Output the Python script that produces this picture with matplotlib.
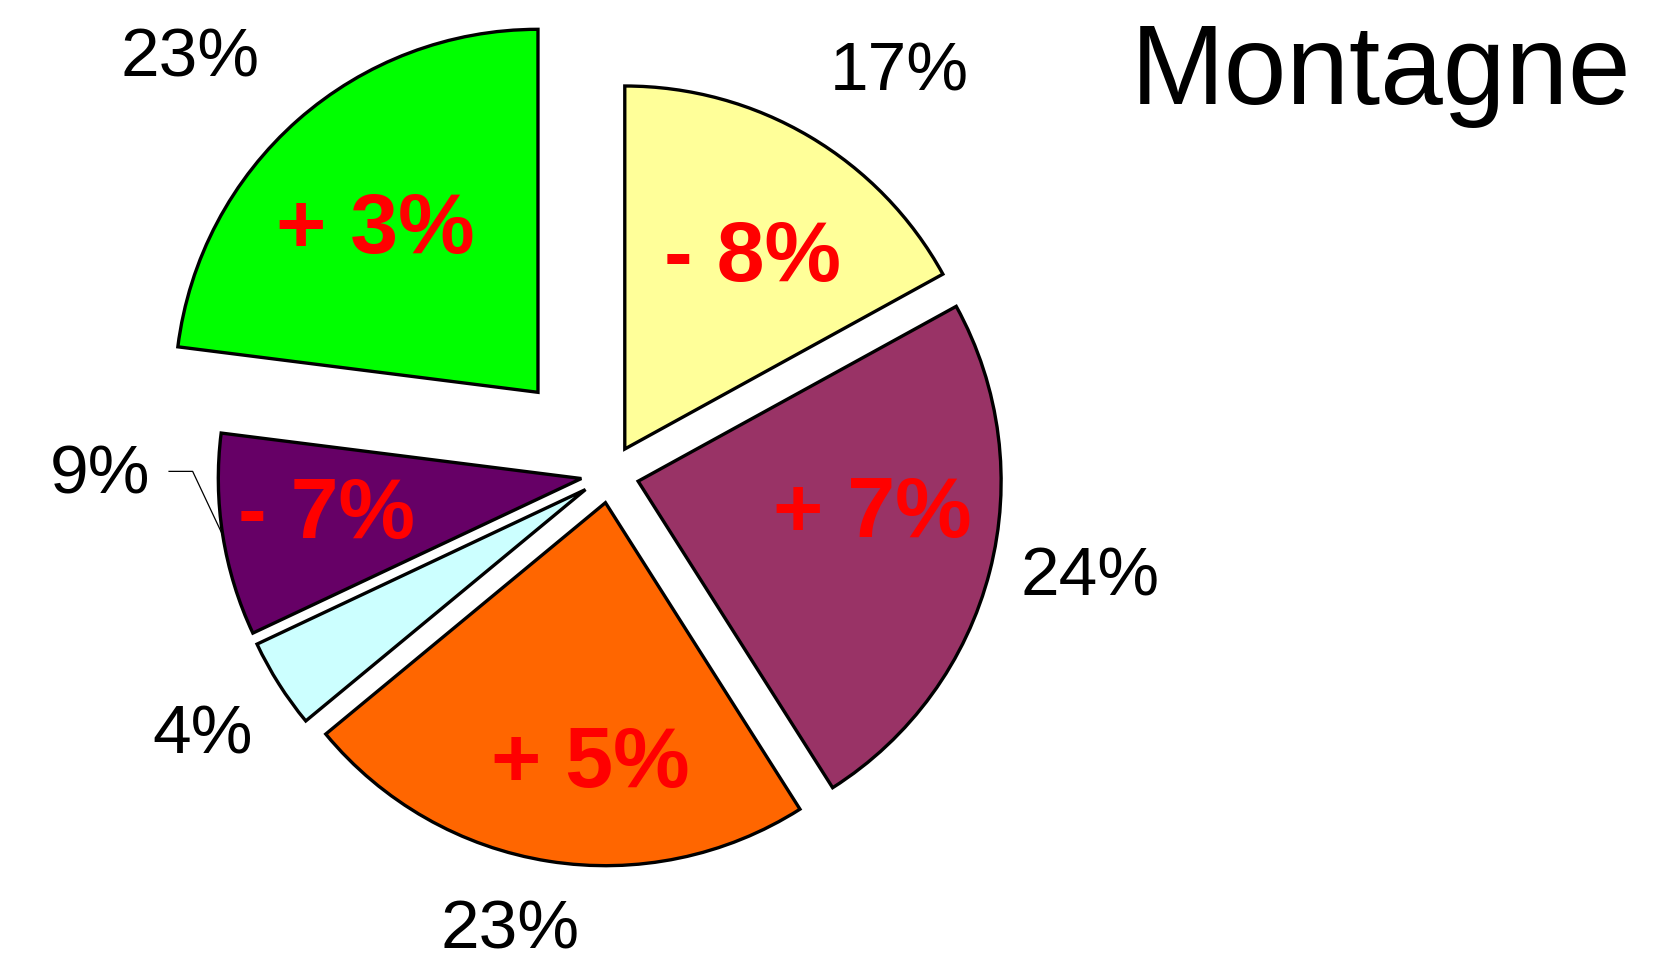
import numpy as np
import matplotlib
matplotlib.use('Agg')
import matplotlib.pyplot as plt

# slices, clockwise from 12 o'clock
shares = [17, 24, 23, 4, 9, 23]
share_labels = ['17%', '24%', '23%', '4%', '9%', '23%']
changes = ['- 8%', '+ 7%', '+ 5%', '', '- 7%', '+ 3%']
colors = ['#FFFF99', '#993366', '#FF6600', '#CCFFFF', '#660066', '#00FF00']
explode = [0.08, 0.08, 0.08, 0.08, 0.08, 0.3]
title = 'Montagne'

plt.rcParams['font.family'] = ['Liberation Sans', 'DejaVu Sans']

W, H, DPI = 1673, 966, 100
R_PX = 363.0          # pie radius in pixels
CX, CY = 610.0, 474.0  # pie centre, pixels from top-left


def cap_half(size_pt):
    # half of digit height in data units
    return 0.716 * size_pt * DPI / 72.0 / R_PX / 2.0


def polar(center, dist, ang):
    a = np.deg2rad(ang)
    return center[0] + dist * np.cos(a), center[1] + dist * np.sin(a)


fig = plt.figure(figsize=(W / DPI, H / DPI), dpi=DPI)
ax = fig.add_axes([0, 0, 1, 1])
wedges, _ = ax.pie(shares, colors=colors, explode=explode, startangle=90,
                   counterclock=False, radius=1,
                   wedgeprops=dict(edgecolor='black', linewidth=2.4))
ax.set_xlim(-CX / R_PX, (W - CX) / R_PX)
ax.set_ylim(-(H - CY) / R_PX, CY / R_PX)
ax.set_aspect('auto')
ax.axis('off')

# label placement tweaks: (distance, angle shift) from exploded centre
outer_place = [(1.30, -5.0), (1.27, 3.2), (1.19, -3.7), (1.243, -0.4), (1.326, -10.2), (1.34, 4.2)]
inner_place = [(0.652, -2.1), (0.649, 8.2), (0.70, 5.6), (0.6, 0), (0.707, -2.7), (0.649, 2.3)]

out_size = 50
in_size = 62
for i, w in enumerate(wedges):
    mid = (w.theta1 + w.theta2) / 2.0
    d, s = outer_place[i]
    x, y = polar(w.center, d, mid + s)
    ax.text(x, y - cap_half(out_size), share_labels[i], fontsize=out_size,
            ha='center', va='baseline', color='black')
    if changes[i]:
        d, s = inner_place[i]
        x2, y2 = polar(w.center, d, mid + s)
        ax.text(x2, y2 - cap_half(in_size), changes[i], fontsize=in_size,
                fontweight='bold', ha='center', va='baseline', color='#FF0000')
    if share_labels[i] == '9%':
        ex, ey = polar(w.center, 1.0, mid)
        x0 = x + 0.19
        ax.plot([x0, x0 + 0.065, ex], [y - 0.008, y - 0.008, ey],
                color='black', linewidth=0.9)

fig.text(1131 / W, (H - 104) / H, title, fontsize=81, ha='left', va='baseline')

fig.savefig('out.png', dpi=DPI)
